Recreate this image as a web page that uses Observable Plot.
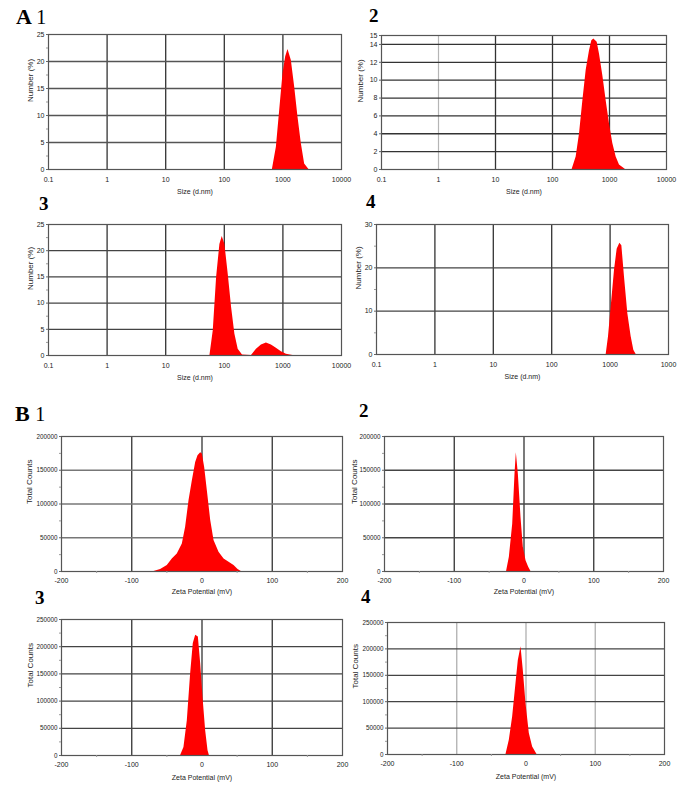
<!DOCTYPE html>
<html><head><meta charset="utf-8">
<script src="https://cdn.jsdelivr.net/npm/d3@7"></script>
<script src="https://cdn.jsdelivr.net/npm/@observablehq/plot@0.6"></script>
<style>
body{margin:0;background:#fff;}
#fig{position:relative;width:688px;height:785px;overflow:hidden;background:#fff;}
.tag{position:absolute;font-family:"Liberation Serif","Times New Roman",serif;line-height:1;color:#000;white-space:pre;font-weight:bold;}
</style></head><body><div id="fig"></div>
<script>
// ---- Data ----
// A: size distributions (Number %) vs Size (d.nm)
const a1Size   = [662, 774, 883, 1005, 1116, 1222, 1393, 1588, 1808, 2061, 2349, 2782];
const a1Number = [0, 4.1, 11, 17.8, 20.9, 22.2, 20.2, 15.3, 9.7, 4.8, 1, 0];
const a2Size   = [221, 260, 298, 341, 390, 446, 490, 531, 608, 668, 764, 874, 1000, 1143, 1309, 1497, 1909];
const a2Number = [0, 1.4, 4.0, 7.7, 11.1, 13.3, 14.4, 14.6, 14.25, 12.9, 10.5, 7.7, 5.1, 2.9, 1.4, 0.5, 0];
const a3Size   = [56.9, 64.8, 73.9, 84.1, 92.2, 102.4, 116.7, 133, 151.4, 172.6, 204.5, 291, 354, 430, 523, 637, 774, 942, 1146, 1486];
const a3Number = [0, 4.7, 14.9, 21.2, 22.7, 21.2, 15.5, 9.2, 4.1, 1.2, 0.1, 0, 1.2, 2.0, 2.4, 2.0, 1.4, 0.7, 0.25, 0];
const a4Size   = [857, 939, 1043, 1189, 1321, 1468, 1589, 1765, 2012, 2295, 2547, 2794];
const a4Number = [0, 4.1, 10.9, 19.4, 24.3, 25.7, 25.1, 17.8, 9.4, 4.1, 1.0, 0];
// B: zeta potential (Total Counts) vs Zeta Potential (mV)
const b1Zeta   = [-68.4, -58.9, -49.4, -42.3, -35.2, -28, -23.3, -18.5, -13.8, -9, -5.7, -1.9, 0.5, 3.8, 7.6, 12.4, 17.1, 24.2, 31.4, 38.5, 45.6, 51.3, 56];
const b1Counts = [0, 3000, 8900, 18700, 26000, 40900, 65500, 105000, 134000, 161600, 171400, 176000, 173900, 154000, 119700, 75400, 45800, 28600, 18700, 13800, 8900, 3000, 0];
const b2Zeta   = [-25, -21, -16.2, -12.9, -11, -8.1, -4.3, -1, 2.9, 6.7, 10];
const b2Counts = [0, 21000, 70000, 144000, 176000, 144000, 80000, 36000, 16000, 6400, 0];
const b3Zeta   = [-30.4, -25.7, -20.9, -16.2, -12.4, -9, -5.2, -1.9, 1.4, 5.2, 8.6, 10.5];
const b3Counts = [0, 14800, 64000, 150000, 206000, 221000, 218000, 169000, 107000, 45600, 8600, 0];
const b4Zeta   = [-28.9, -24.1, -19.3, -14.5, -11.1, -7.2, -3.9, 0, 4.8, 9.6, 15.9];
const b4Counts = [0, 27000, 71000, 134000, 178000, 204000, 159000, 96000, 39600, 14400, 0];

// ---- Ticks and labels ----
const sizeTicks = [0.1, 1, 10, 100, 1000, 10000];
const sizeLabels = ["0.1", "1", "10", "100", "1000", "10000"];
const sizeLabelsA4 = ["0.1", "1", "10", "100", "1000", "1000"];
const sizeGrid = [1, 10, 100, 1000];
const num25Ticks = [0, 5, 10, 15, 20, 25];
const num25Labels = ["0", "5", "10", "15", "20", "25"];
const num25Minor = [2.5, 7.5, 12.5, 17.5, 22.5];
const num15Ticks = [0, 2, 4, 6, 8, 10, 12, 14, 15];
const num15Labels = ["0", "2", "4", "6", "8", "10", "12", "14", "15"];
const num30Ticks = [0, 10, 20, 30];
const num30Labels = ["0", "10", "20", "30"];
const num30Minor = [5, 15, 25];
const zetaTicks = [-200, -100, 0, 100, 200];
const zetaLabels = ["-200", "-100", "0", "100", "200"];
const zetaGrid = [-100, 0, 100];
const zetaMinor = [-150, -50, 50, 150];
const c200Ticks = [0, 50000, 100000, 150000, 200000];
const c200Labels = ["0", "50000", "100000", "150000", "200000"];
const c200Minor = [25000, 75000, 125000, 175000];
const c250Ticks = [0, 50000, 100000, 150000, 200000, 250000];
const c250Labels = ["0", "50000", "100000", "150000", "200000", "250000"];
const c250Minor = [25000, 75000, 125000, 175000, 225000];

const fig = document.getElementById("fig");
const ML = 48, MR = 6, MT = 6, MB = 32;
const FONT = "'Liberation Sans', Arial, sans-serif";

function panel(c) {
  const data = c.xs.map((x, i) => ({x, y: c.ys[i]}));
  const marks = [];
  if (c.xGridLight) marks.push(Plot.gridX(c.xGridLight, {stroke: "#b5b5b5", strokeOpacity: 1, strokeWidth: 1.2}));
  marks.push(Plot.gridX(c.xGrid, {stroke: c.gx, strokeOpacity: 1, strokeWidth: 1.3}));
  marks.push(Plot.gridY(c.yGrid, {stroke: c.gy, strokeOpacity: 1, strokeWidth: 1.3}));
  marks.push(Plot.areaY(data, {x: "x", y: "y", fill: "#ff0000"}));
  marks.push(Plot.frame({stroke: "#555", strokeWidth: 1.2}));
  if (c.yMinor) marks.push(Plot.axisY(c.yMinor, {label: null, tickSize: 2, tickFormat: () => "", stroke: "#999"}));
  if (c.xMinor) marks.push(Plot.axisX(c.xMinor, {label: null, tickSize: 2, tickFormat: () => "", stroke: "#999"}));
  marks.push(Plot.axisY(c.yTicks, {label: null, tickFormat: d => c.yLabels[c.yTicks.indexOf(d)], tickSize: 2, tickPadding: 2, fontSize: c.yFont, fill: "#222", stroke: "#666"}));
  marks.push(Plot.axisX(c.xTicks, {label: null, tickFormat: d => c.xLabels[c.xTicks.indexOf(d)], tickSize: 0, tickPadding: c.xPad, fontSize: 7, fill: "#222"}));
  marks.push(Plot.text([c.xTitle], {text: d => d, frameAnchor: "bottom", dy: c.xDy, fontSize: 7, fill: "#222"}));
  marks.push(Plot.text([c.yTitle], {text: d => d, frameAnchor: "left", dx: c.yDx, rotate: -90, fontSize: 8, fill: "#222"}));
  const p = Plot.plot({
    width: c.fx1 - c.fx0 + ML + MR,
    height: c.fy1 - c.fy0 + MT + MB,
    marginLeft: ML, marginRight: MR, marginTop: MT, marginBottom: MB,
    style: {background: "transparent", overflow: "visible", fontFamily: FONT, color: "#222", maxWidth: "none"},
    x: c.log ? {type: "log", domain: c.xDomain, label: null} : {domain: c.xDomain, label: null},
    y: {domain: c.yDomain, label: null},
    marks
  });
  p.style.position = "absolute";
  p.style.left = (c.fx0 - ML) + "px";
  p.style.top = (c.fy0 - MT) + "px";
  fig.appendChild(p);
}

function tag(html, left, top, size) {
  const d = document.createElement("div");
  d.className = "tag";
  d.style.left = left + "px"; d.style.top = top + "px"; d.style.fontSize = size + "px";
  d.innerHTML = html;
  fig.appendChild(d);
}

const sizeBase = {log: true, xDomain: [0.1, 10000], xTicks: sizeTicks, xLabels: sizeLabels, xGrid: sizeGrid,
  xTitle: "Size (d.nm)", yTitle: "Number (%)", xPad: 8, xDy: 24, gx: "#333", gy: "#444", yFont: 7};
panel({...sizeBase, xs: a1Size, ys: a1Number, fx0: 48, fx1: 341, fy0: 34, fy1: 169, yDx: -18,
  yDomain: [0, 25], yTicks: num25Ticks, yLabels: num25Labels, yGrid: [5, 10, 15, 20], yMinor: num25Minor, gy: "#555"});
panel({...sizeBase, xs: a2Size, ys: a2Number, fx0: 381, fx1: 666, fy0: 35, fy1: 169, yDx: -21,
  yDomain: [0, 15], yTicks: num15Ticks, yLabels: num15Labels, yGrid: [2, 4, 6, 8, 10, 12, 14],
  xGrid: [10, 100, 1000], xGridLight: [1], gy: "#333"});
panel({...sizeBase, xs: a3Size, ys: a3Number, fx0: 48, fx1: 341, fy0: 224, fy1: 355, yDx: -18,
  yDomain: [0, 25], yTicks: num25Ticks, yLabels: num25Labels, yGrid: [5, 10, 15, 20], yMinor: num25Minor});
panel({...sizeBase, xs: a4Size, ys: a4Number, fx0: 376, fx1: 668, fy0: 224, fy1: 354, yDx: -18, xLabels: sizeLabelsA4,
  yDomain: [0, 30], yTicks: num30Ticks, yLabels: num30Labels, yGrid: [10, 20], yMinor: num30Minor});

const zetaBase = {log: false, xDomain: [-200, 200], xTicks: zetaTicks, xLabels: zetaLabels, xGrid: zetaGrid, xMinor: zetaMinor,
  xTitle: "Zeta Potential (mV)", yTitle: "Total Counts", xPad: 7, gx: "#333", gy: "#444", yFont: 6.3};
panel({...zetaBase, xs: b1Zeta, ys: b1Counts, fx0: 61, fx1: 342, fy0: 436, fy1: 571, yDx: -32, xDy: 22,
  yDomain: [0, 200000], yTicks: c200Ticks, yLabels: c200Labels, yGrid: [50000, 100000, 150000], yMinor: c200Minor, gy: "#777"});
panel({...zetaBase, xs: b2Zeta, ys: b2Counts, fx0: 384, fx1: 663, fy0: 436, fy1: 571, yDx: -30, xDy: 22,
  yDomain: [0, 200000], yTicks: c200Ticks, yLabels: c200Labels, yGrid: [50000, 100000, 150000], yMinor: c200Minor});
panel({...zetaBase, xs: b3Zeta, ys: b3Counts, fx0: 61, fx1: 342, fy0: 619, fy1: 755, yDx: -31, xDy: 24,
  yDomain: [0, 250000], yTicks: c250Ticks, yLabels: c250Labels, yGrid: [50000, 100000, 150000, 200000], yMinor: c250Minor});
panel({...zetaBase, xs: b4Zeta, ys: b4Counts, fx0: 387, fx1: 664, fy0: 622, fy1: 754, yDx: -32, xDy: 24,
  yDomain: [0, 250000], yTicks: c250Ticks, yLabels: c250Labels, yGrid: [50000, 100000, 150000, 200000], yMinor: c250Minor,
  gx: "#b0b0b0"});

tag('A <span style="font-weight:normal;font-size:20px">1</span>', 16, 6, 22);
tag('2', 369, 6, 19);
tag('3', 39, 194, 19);
tag('4', 366, 192, 19);
tag('B <span style="font-weight:normal;font-size:20px">1</span>', 15, 403, 22);
tag('2', 359, 401, 19);
tag('3', 35, 588, 19);
tag('4', 361, 587, 19);
</script>
</body></html>
